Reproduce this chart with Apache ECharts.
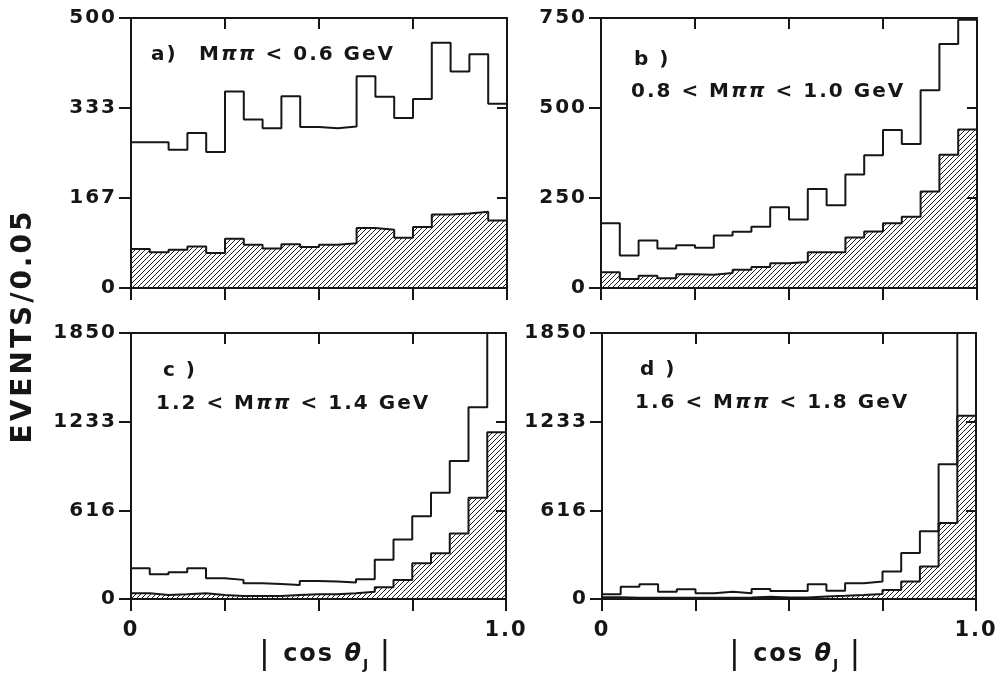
<!DOCTYPE html>
<html>
<head>
<meta charset="utf-8">
<script src="https://cdn.jsdelivr.net/npm/echarts@6.0.0/dist/echarts.min.js"></script>
<style>
  html, body { margin: 0; background: #fff; }
  #chart { width: 1007px; height: 677px; }
</style>
</head>
<body>
<div id="chart"></div>
<script>
// bin edges in |cos theta_J|, 20 bins of 0.05
const binEdges = [0, 0.05, 0.1, 0.15, 0.2, 0.25, 0.3, 0.35, 0.4, 0.45, 0.5,
  0.55, 0.6, 0.65, 0.7, 0.75, 0.8, 0.85, 0.9, 0.95, 1.0]

// events per bin, open histogram (all) and hatched histogram
const openA = [270, 270, 256, 287, 252, 364, 312, 296, 355, 298, 296, 299, 392, 354, 315, 350, 454, 401, 433, 341]
const hatchA = [72, 66, 71, 77, 65, 91, 80, 73, 81, 76, 80, 83, 111, 108, 93, 113, 136, 138, 141, 125]
const openB = [180, 90, 132, 110, 119, 112, 146, 156, 170, 224, 190, 275, 230, 315, 369, 439, 400, 549, 678, 745]
const hatchB = [44, 25, 34, 27, 38, 37, 42, 51, 58, 69, 72, 99, 99, 140, 157, 180, 198, 268, 370, 440]
const openC = [214, 172, 186, 214, 145, 133, 110, 105, 98, 126, 121, 114, 138, 273, 413, 576, 739, 960, 1333, 1850]
const hatchC = [40, 28, 33, 40, 28, 21, 21, 21, 28, 33, 33, 40, 51, 82, 133, 249, 319, 455, 704, 1159]
const openD = [33, 86, 103, 51, 68, 40, 51, 40, 70, 56, 56, 103, 58, 110, 121, 191, 320, 471, 937, 1850]
const hatchD = [12, 8, 8, 8, 8, 8, 8, 10, 15, 10, 10, 18, 22, 28, 35, 63, 121, 226, 529, 1275]

// axis tick labels
const yLabelsA = ['0', '167', '333', '500']
const yLabelsB = ['0', '250', '500', '750']
const yLabelsC = ['0', '616', '1233', '1850']
const yLabelsD = ['0', '616', '1233', '1850']
const xTickValues = [0, 0.25, 0.5, 0.75, 1]
const xLabelValues = [0, 1]
const xLabels = ['0', '1.0']

const ink = '#161616'
const font = 'DejaVu Sans'

// the hand lettering of the scan is set wide, so space the canvas text out
;['fillText', 'measureText'].forEach(function (fn) {
  const orig = CanvasRenderingContext2D.prototype[fn]
  CanvasRenderingContext2D.prototype[fn] = function () {
    const m = /(\d+(?:\.\d+)?)px/.exec(this.font)
    this.letterSpacing = m ? Math.round(parseFloat(m[1]) * 0.1) + 'px' : '0px'
    return orig.apply(this, arguments)
  }
})

// diagonal hatching for the shaded histogram
const hatch = document.createElement('canvas')
hatch.width = hatch.height = 5
const hc = hatch.getContext('2d')
hc.strokeStyle = '#202020'
hc.lineWidth = 1
hc.beginPath()
hc.moveTo(0, 5); hc.lineTo(5, 0)
hc.moveTo(-1, 1); hc.lineTo(1, -1)
hc.moveTo(4, 6); hc.lineTo(6, 4)
hc.stroke()

const panels = [
  { grid: { left: 131, top: 18, width: 376, height: 270 }, max: 500, yLabels: yLabelsA, open: openA, hatched: hatchA, xLab: false },
  { grid: { left: 601, top: 18, width: 376, height: 270 }, max: 750, yLabels: yLabelsB, open: openB, hatched: hatchB, xLab: false },
  { grid: { left: 131, top: 333, width: 375, height: 266 }, max: 1850, yLabels: yLabelsC, open: openC, hatched: hatchC, xLab: true },
  { grid: { left: 602, top: 333, width: 374, height: 266 }, max: 1850, yLabels: yLabelsD, open: openD, hatched: hatchD, xLab: true }
]

function stepData(vals) {
  return binEdges.map((x, k) => [x, vals[Math.min(k, vals.length - 1)]])
}

const lineStyle = { color: ink, width: 2 }
const textBase = { fontFamily: font, fontWeight: 'bold', color: ink }

const grid = [], xAxis = [], yAxis = [], series = []
panels.forEach((p, i) => {
  const yVals = [0, p.max / 3, p.max * 2 / 3, p.max]
  grid.push(p.grid)
  xAxis.push({
    gridIndex: i, type: 'value', min: 0, max: 1, position: 'bottom',
    axisLine: { onZero: false, lineStyle },
    axisTick: { customValues: xTickValues, length: 12, lineStyle },
    axisLabel: Object.assign({
      show: p.xLab, customValues: xLabelValues, margin: 20, fontSize: 21,
      formatter: v => xLabels[xLabelValues.indexOf(v)]
    }, textBase),
    splitLine: { show: false }
  })
  xAxis.push({
    gridIndex: i, type: 'value', min: 0, max: 1, position: 'top',
    axisLine: { onZero: false, lineStyle },
    axisTick: { customValues: [0.25, 0.5, 0.75], inside: true, length: 11, lineStyle },
    axisLabel: { show: false },
    splitLine: { show: false }
  })
  yAxis.push({
    gridIndex: i, type: 'value', min: 0, max: p.max, position: 'left',
    axisLine: { onZero: false, lineStyle },
    axisTick: { customValues: yVals, length: 12, lineStyle },
    axisLabel: Object.assign({
      customValues: yVals, margin: 14, fontSize: 20,
      formatter: v => p.yLabels[Math.round(v / (p.max / 3))]
    }, textBase),
    splitLine: { show: false }
  })
  yAxis.push({
    gridIndex: i, type: 'value', min: 0, max: p.max, position: 'right',
    axisLine: { onZero: false, lineStyle },
    axisTick: { customValues: yVals.slice(1, 3), inside: true, length: 10, lineStyle },
    axisLabel: { show: false },
    splitLine: { show: false }
  })
  series.push({
    type: 'line', xAxisIndex: 2 * i, yAxisIndex: 2 * i, step: 'end',
    data: stepData(p.hatched), symbol: 'none', silent: true,
    lineStyle: { color: ink, width: 2 },
    areaStyle: { color: { image: hatch, repeat: 'repeat' }, opacity: 1 }
  })
  series.push({
    type: 'line', xAxisIndex: 2 * i, yAxisIndex: 2 * i, step: 'end',
    data: stepData(p.open), symbol: 'none', silent: true,
    lineStyle: { color: ink, width: 2 }
  })
})

function txt(x, y, text, size, extra) {
  return Object.assign({
    type: 'text', x, y, silent: true,
    style: {
      text, fill: ink, fontFamily: font, fontWeight: 'bold', fontSize: size,
      verticalAlign: 'middle',
      rich: {
        p: { fontFamily: font, fontWeight: 'bold', fontStyle: 'italic', fontSize: size, fill: ink },
        t: { fontFamily: font, fontWeight: 'bold', fontStyle: 'italic', fontSize: size, fill: ink },
        b: { fontFamily: font, fontWeight: 'normal', fontSize: size + 8, fill: ink },
        j: { fontFamily: font, fontWeight: 'bold', fontSize: 14, fill: ink, verticalAlign: 'bottom', lineHeight: 4 }
      }
    }
  }, extra || {})
}

const graphic = [
  txt(151, 55, 'a)', 20),
  txt(199, 55, 'M{p|ππ} < 0.6 GeV', 20),
  txt(634, 60, 'b )', 20),
  txt(631, 92, '0.8 < M{p|ππ} < 1.0 GeV', 20),
  txt(163, 371, 'c )', 20),
  txt(156, 404, '1.2 < M{p|ππ} < 1.4 GeV', 20),
  txt(640, 370, 'd )', 20),
  txt(635, 403, '1.6 < M{p|ππ} < 1.8 GeV', 20),
  txt(259, 655, '{b||} cos {t|θ}{j|J} {b||}', 24),
  txt(729, 655, '{b||} cos {t|θ}{j|J} {b||}', 24),
  txt(24, 326, 'EVENTS/0.05', 28, { rotation: Math.PI / 2, style: {
    text: 'EVENTS/0.05', fill: ink, fontFamily: font, fontWeight: 'bold', fontSize: 28,
    align: 'center', verticalAlign: 'middle'
  } })
]

const chart = echarts.init(document.getElementById('chart'))
chart.setOption({
  animation: false,
  backgroundColor: '#fff',
  grid, xAxis, yAxis, series, graphic
})
</script>
</body>
</html>
